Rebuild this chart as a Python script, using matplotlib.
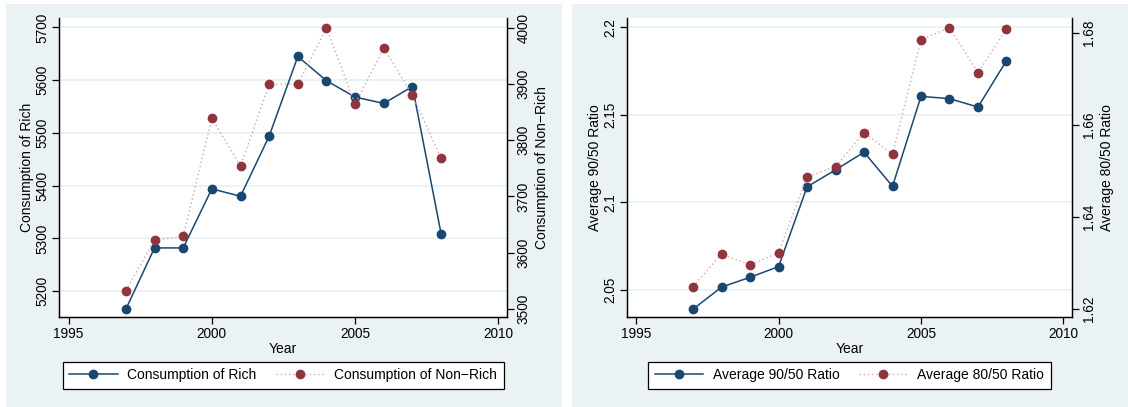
import matplotlib
matplotlib.use("Agg")
import matplotlib.pyplot as plt
from matplotlib.patches import Rectangle

plt.rcParams['font.family'] = ['Liberation Sans', 'DejaVu Sans']

years = [1997, 1998, 1999, 2000, 2001, 2002, 2003, 2004, 2005, 2006, 2007, 2008]
cons_rich = [5166, 5282, 5282, 5394, 5380, 5494, 5645, 5599, 5568, 5556, 5588, 5309]
cons_nonrich = [3533, 3623, 3629, 3839, 3754, 3899, 3900, 3999, 3864, 3964, 3880, 3768]
ratio_9050 = [2.0389, 2.0515, 2.0571, 2.0632, 2.1088, 2.1185, 2.1286, 2.1091, 2.1605, 2.1592, 2.1544, 2.1809]
ratio_8050 = [1.6249, 1.6320, 1.6296, 1.6323, 1.6488, 1.6510, 1.6584, 1.6537, 1.6786, 1.6812, 1.6714, 1.6809]

xticks = [1995, 2000, 2005, 2010]
left_ticks_1 = [5200, 5300, 5400, 5500, 5600, 5700]
right_ticks_1 = [3500, 3600, 3700, 3800, 3900, 4000]
left_ticks_2 = [2.05, 2.1, 2.15, 2.2]
left_labels_2 = ['2.05', '2.1', '2.15', '2.2']
right_ticks_2 = [1.62, 1.64, 1.66, 1.68]
right_labels_2 = ['1.62', '1.64', '1.66', '1.68']

W, H = 1128, 407
fig = plt.figure(figsize=(W / 100, H / 100), dpi=100, facecolor='white')

BG = '#eaf2f3'
NAVY = '#1a476f'
MAROON = '#90353b'
PINK = '#d9a3a7'

for x0, x1 in [(6, 562), (572, 1128)]:
    fig.patches.append(Rectangle((x0 / W, 0), (x1 - x0) / W, (H - 4) / H,
                                 transform=fig.transFigure, facecolor=BG,
                                 edgecolor='none', zorder=-10))


def make_panel(ax_left_px, ax_right_px, yl, yr, ylim_l, ylim_r, lt, ll, rt, rl,
               lab_l, lab_r, s1, s2, name1, name2):
    top, bottom = 18, 317
    ax = fig.add_axes([ax_left_px / W, (H - bottom) / H,
                       (ax_right_px - ax_left_px) / W, (bottom - top) / H])
    ax.set_facecolor('white')
    ax2 = ax.twinx()
    l1, = ax.plot(yl, s1, color=NAVY, lw=1.1, marker='o', ms=6,
                  mec=NAVY, mfc=NAVY, label=name1, zorder=3)
    l2, = ax2.plot(yr, s2, color=PINK, lw=1.0, ls=(0, (1, 2)), marker='o', ms=6,
                   mec=MAROON, mfc=MAROON, label=name2, zorder=3)
    ax.set_xlim(1994.68, 2010.3)
    ax.set_ylim(*ylim_l)
    ax2.set_ylim(*ylim_r)
    ax.set_xticks(xticks)
    ax.set_yticks(lt)
    ax.set_yticklabels(ll, rotation=90, va='center', ha='right')
    ax2.set_yticks(rt)
    ax2.set_yticklabels(rl, rotation=90, va='center', ha='left')
    ax.grid(axis='y', color=BG, lw=1.4)
    ax.set_axisbelow(True)
    for a in (ax, ax2):
        a.spines['top'].set_visible(False)
        for s in ('left', 'right', 'bottom'):
            a.spines[s].set_linewidth(0.9)
            a.spines[s].set_color('black')
        a.tick_params(direction='out', length=5, width=0.9, labelsize=9.8, pad=2)
    ax.set_xlabel('Year', fontsize=10, labelpad=1)
    ax.set_ylabel(lab_l, fontsize=10, labelpad=1)
    ax2.set_ylabel(lab_r, fontsize=10, labelpad=3)
    leg = ax.legend([l1, l2], [name1, name2], ncol=2, loc='center',
                    bbox_to_anchor=(0.5, -0.195), frameon=True, fancybox=False,
                    edgecolor='black', framealpha=1, fontsize=10,
                    handlelength=3.5, handletextpad=0.7, columnspacing=1.4,
                    borderpad=0.45)
    leg.get_frame().set_linewidth(0.9)
    return ax, ax2


make_panel(59.4, 507, years, years, (5151, 5718), (3486, 4017),
           left_ticks_1, [str(v) for v in left_ticks_1],
           right_ticks_1, [str(v) for v in right_ticks_1],
           'Consumption of Rich', 'Consumption of Non\u2212Rich',
           cons_rich, cons_nonrich,
           'Consumption of Rich', 'Consumption of Non\u2212Rich')

make_panel(627, 1072, years, years, (2.0344, 2.2053), (1.6183, 1.6833),
           left_ticks_2, left_labels_2, right_ticks_2, right_labels_2,
           'Average 90/50 Ratio', 'Average 80/50 Ratio',
           ratio_9050, ratio_8050,
           'Average 90/50 Ratio', 'Average 80/50 Ratio')

fig.savefig('out.png', dpi=100, facecolor='white')
